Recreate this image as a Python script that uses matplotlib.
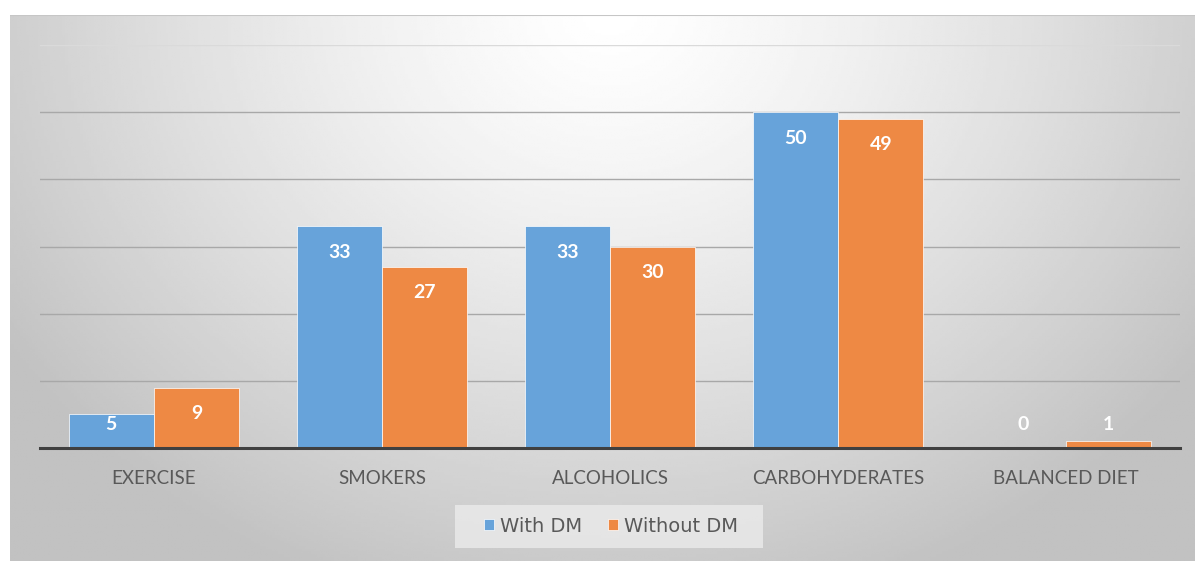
import numpy as np
import matplotlib.pyplot as plt
from matplotlib.patches import Rectangle

categories = ['EXERCISE', 'SMOKERS', 'ALCOHOLICS', 'CARBOHYDERATES', 'BALANCED DIET']
with_dm = [5, 33, 33, 50, 0]
without_dm = [9, 27, 30, 49, 1]
series_names = ['With DM', 'Without DM']

blue = '#67A3DA'
orange = '#EE8944'
W, H = 1195, 561

plt.rcParams['font.family'] = ['Lato', 'DejaVu Sans']

fig = plt.figure(figsize=(W / 100, H / 100), dpi=100)
fig.patch.set_facecolor('white')

# shaded panel behind the chart (light centre at the top, grey towards the edges)
bg = fig.add_axes([10 / W, 0, 1 - 10 / W, 1 - 15 / H])
bg.set_axis_off()
gx, gy = np.meshgrid(np.linspace(10, W, 400), np.linspace(15, H, 200))
r = np.sqrt(((gx - 610) / 720) ** 2 + ((gy - 10) / 620) ** 2)
shade = 1.0 - 0.24 * np.clip(r, 0, 1) ** 1.3
bg.imshow(shade, cmap='gray', vmin=0, vmax=1, aspect='auto',
          extent=[0, 1, 0, 1], origin='upper')
bg.set_xlim(0, 1)
bg.set_ylim(0, 1)
bg.axhline(1, color='#c6c6c6', lw=1.5)

ax = fig.add_axes([40 / W, (H - 448) / H, (1180 - 40) / W, (448 - 45) / H])
ax.patch.set_alpha(0)

x = np.arange(len(categories))
bw = 0.372
b1 = ax.bar(x - 0.188, with_dm, bw, color=blue, edgecolor='white', linewidth=0.5, zorder=3,
            label=series_names[0])
b2 = ax.bar(x + 0.188, without_dm, bw, color=orange, edgecolor='white', linewidth=0.5, zorder=3,
            label=series_names[1])

ax.set_xlim(-0.5, len(categories) - 0.5)
ax.set_ylim(0, 60)
ax.set_yticks(np.arange(0, 51, 10))
ax.grid(axis='y', color='#a8a8a8', lw=1.0, zorder=1)
ax.axhline(60, color='#dadada', lw=1.0, zorder=1)
ax.tick_params(axis='y', left=False, labelleft=False)
ax.tick_params(axis='x', length=0, pad=16, labelsize=13.5, labelcolor='#595959')
ax.set_xticks(x)
ax.set_xticklabels(categories)
for s in ['top', 'right', 'left']:
    ax.spines[s].set_visible(False)
ax.spines['bottom'].set_color('#404040')
ax.spines['bottom'].set_linewidth(2.2)
ax.spines['bottom'].set_zorder(4)

# value labels sit just inside the top of each bar
for bars, vals in [(b1, with_dm), (b2, without_dm)]:
    for rect, v in zip(bars, vals):
        cx = rect.get_x() + rect.get_width() / 2
        ax.text(cx, max(v - 3.85, 3.45), str(v), ha='center', va='center',
                color='white', fontsize=14, fontweight='bold', zorder=5)

# legend panel
fig.patches.append(Rectangle((455 / W, 1 - 548 / H), 308 / W, 43 / H,
                             transform=fig.transFigure, facecolor='#ebebeb',
                             edgecolor='none', alpha=0.8, zorder=2))
leg = fig.legend(handles=[b1, b2], loc='center', bbox_to_anchor=(611 / W, 1 - 526 / H),
                 ncol=2, frameon=False, handlelength=0.55, handleheight=0.55,
                 handletextpad=0.3, columnspacing=1.3, borderpad=0, borderaxespad=0,
                 prop={'family': ['DejaVu Sans'], 'size': 14})
for t in leg.get_texts():
    t.set_color('#595959')

fig.savefig('out.png', dpi=100)
